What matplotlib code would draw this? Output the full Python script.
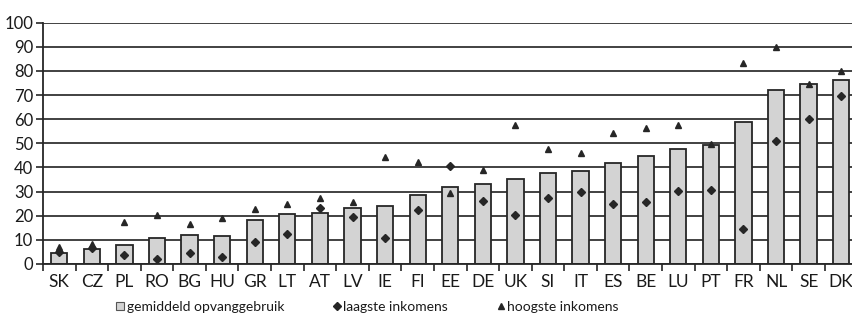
import matplotlib.pyplot as plt
import numpy as np
from matplotlib.lines import Line2D

plt.rcParams['font.family'] = ['Lato', 'DejaVu Sans']

landen = ['SK', 'CZ', 'PL', 'RO', 'BG', 'HU', 'GR', 'LT', 'AT', 'LV', 'IE', 'FI', 'EE',
          'DE', 'UK', 'SI', 'IT', 'ES', 'BE', 'LU', 'PT', 'FR', 'NL', 'SE', 'DK']
gemiddeld = [4.4, 6.2, 7.8, 10.9, 11.9, 11.8, 18.1, 20.6, 21.0, 23.1, 24.1, 28.5, 31.8,
             33.1, 35.1, 37.8, 38.6, 41.8, 44.8, 47.8, 49.2, 58.8, 72.2, 74.7, 76.2]
laagste = [5.1, 6.6, 3.7, 1.9, 4.4, 2.9, 9.3, 12.6, 23.2, 19.6, 10.7, 22.3, 40.8,
           26.0, 20.2, 27.4, 30.0, 25.0, 25.7, 30.3, 30.5, 14.6, 51.0, 60.2, 69.5]
hoogste = [7.2, 8.2, 17.3, 20.3, 16.5, 18.9, 22.9, 24.7, 27.4, 25.6, 44.5, 42.2, 29.6,
           38.8, 57.5, 47.6, 46.2, 54.2, 56.4, 57.5, 49.7, 83.3, 90.1, 74.5, 80.1]

donker = '#262626'
grijs = '#d3d3d3'

fig = plt.figure(figsize=(8.52, 3.21), dpi=100)
ax = fig.add_axes([43 / 852, 1 - 264 / 321, (857.5 - 43) / 852, (264 - 22.7) / 321])

x = np.arange(len(landen))
ax.bar(x, gemiddeld, width=0.5, color=grijs, edgecolor=donker, linewidth=1.3, zorder=2)
ax.plot(x, laagste, linestyle='none', marker='D', markersize=4.5, color=donker, zorder=3)
ax.plot(x, hoogste, linestyle='none', marker='^', markersize=5, color=donker, zorder=3)

ax.set_xlim(-0.5, len(landen) - 0.5)
ax.set_ylim(0, 100)
ax.set_yticks(range(0, 101, 10))
ax.yaxis.grid(True, color='#333333', linewidth=1.3, zorder=0)
ax.set_axisbelow(True)

# category labels centred, tick marks on the boundaries
ax.set_xticks(x)
ax.set_xticklabels(landen)
ax.set_xticks(np.arange(-0.5, len(landen)), minor=True)
ax.tick_params(axis='x', which='major', length=0, pad=7, labelsize=12.5, colors='#1a1a1a')
ax.tick_params(axis='x', which='minor', length=5, width=1.2, color=donker)
ax.tick_params(axis='y', length=5, width=1.2, color=donker, labelsize=12, pad=2,
               labelcolor='#1a1a1a')

for kant in ['top', 'right']:
    ax.spines[kant].set_visible(False)
ax.spines['left'].set_color(donker)
ax.spines['left'].set_linewidth(1.3)
ax.spines['bottom'].set_color(donker)
ax.spines['bottom'].set_linewidth(1.3)

handles = [
    Line2D([], [], linestyle='none', marker='s', markersize=6, markerfacecolor=grijs,
           markeredgecolor='#555555', markeredgewidth=0.8),
    Line2D([], [], linestyle='none', marker='D', markersize=4.5, color=donker),
    Line2D([], [], linestyle='none', marker='^', markersize=4.5, color=donker),
]
labels = ['gemiddeld opvanggebruik', 'laagste inkomens', 'hoogste inkomens']
fig.legend(handles, labels, loc='center', bbox_to_anchor=(0.431, 1 - 307 / 321), ncol=3,
           frameon=False, fontsize=10, handlelength=0.6, handletextpad=0.15,
           columnspacing=3.5, labelcolor='#1a1a1a')

fig.savefig('out.png', dpi=100)
